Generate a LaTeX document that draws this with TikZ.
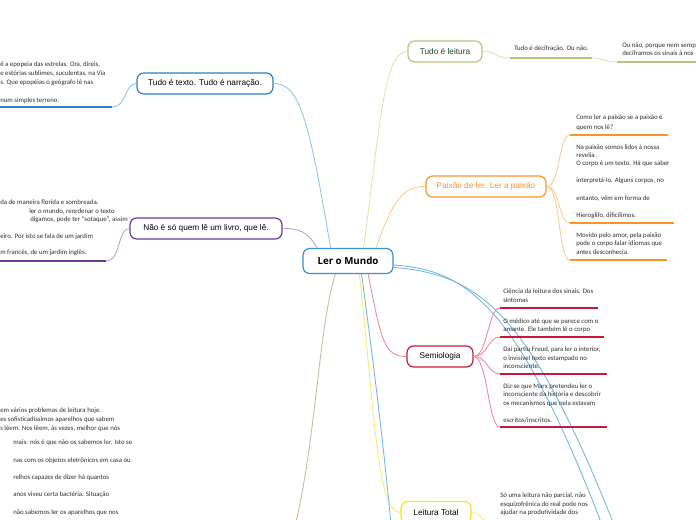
\documentclass[tikz,border=0pt]{standalone}
\usepackage{fontspec}
\setmainfont{Carlito}
\newfontfamily\nodefont{Liberation Sans}
\newfontfamily\centfont{Open Sans}
\definecolor{cblue}{HTML}{3B8FD0}
\definecolor{tblue}{HTML}{2F7FC1}
\definecolor{lblue}{HTML}{8EC6EA}
\definecolor{bblue}{HTML}{73B6E2}
\definecolor{cpurp}{HTML}{6C3A96}
\definecolor{lpurp}{HTML}{B9A2D6}
\definecolor{colive}{HTML}{B5C77C}
\definecolor{lolive}{HTML}{DCE4B6}
\definecolor{tgreen}{HTML}{1A4A36}
\definecolor{corange}{HTML}{F5962A}
\definecolor{lorange}{HTML}{FCC98F}
\definecolor{cred}{HTML}{C8193C}
\definecolor{lred}{HTML}{E98A9C}
\definecolor{cyell}{HTML}{F7E31C}
\definecolor{lyell}{HTML}{FBE870}
\definecolor{ctan}{HTML}{C9B9A0}
\definecolor{ctext}{HTML}{2E2E2E}
\begin{document}
\begin{tikzpicture}[x=0.75pt,y=-0.75pt,
  topic/.style={draw, fill=white, rounded corners=5pt, line width=0.9pt, inner sep=0pt,
    font=\nodefont\fontsize{6.2pt}{7pt}\selectfont, text=black},
  txt/.style={inner sep=0pt, anchor=base west, font=\fontsize{5.1pt}{6.4pt}\selectfont, text=ctext},
  conn/.style={line width=0.65pt},
  uline/.style={line width=1.1pt}
]
\useasboundingbox (0,0) rectangle (696,520);
\clip (0,0) rectangle (696,520);

% ---------- topics ----------
\node[topic, draw=cblue, minimum width=67.5pt, minimum height=18.75pt,
      font=\centfont\bfseries\fontsize{7.3pt}{8pt}\selectfont] (c) at (348,261) {Ler o Mundo};
\node[topic, draw=tblue, minimum width=102pt, minimum height=15.75pt] (tt) at (205,83.5) {Tudo é texto. Tudo é narração.};
\node[topic, draw=cpurp, minimum width=114pt, minimum height=15.75pt] (ns) at (206,228.5) {Não é só quem lê um livro, que lê.};
\node[topic, draw=colive, text=tgreen, minimum width=55.5pt, minimum height=15.75pt] (tl) at (445,51.5) {Tudo é leitura};
\node[topic, draw=corange, text=corange, minimum width=90pt, minimum height=15.75pt] (pl) at (486,186.5) {Paixão de ler. Ler a paixão};
\node[topic, draw=cred, minimum width=49.5pt, minimum height=15.75pt] (se) at (440,356.5) {Semiologia};
\node[topic, draw=cyell, minimum width=52.5pt, minimum height=16.5pt] (lt) at (436,512.5) {Leitura Total};

% ---------- free ends ----------
\coordinate (bd) at (393,545);
\coordinate (tn) at (290,545);
\coordinate (ba) at (606,535);
\coordinate (bb) at (618,535);
\coordinate (u1a) at (-5,107);  \coordinate (u1b) at (112,107);
\coordinate (u2a) at (-5,261);  \coordinate (u2b) at (106,261);
\coordinate (u3a) at (510,58);  \coordinate (u3b) at (592,58);
\coordinate (u4a) at (617,62);  \coordinate (u4b) at (705,62);
\coordinate (p1a) at (570,135); \coordinate (p1b) at (668,135);
\coordinate (p2a) at (570,223); \coordinate (p2b) at (674,223);
\coordinate (p3a) at (570,260); \coordinate (p3b) at (667,260);
\coordinate (s1a) at (500,308); \coordinate (s1b) at (598,308);
\coordinate (s2a) at (500,337); \coordinate (s2b) at (604,337);
\coordinate (s3a) at (500,374); \coordinate (s3b) at (607,374);
\coordinate (s4a) at (500,427); \coordinate (s4b) at (607,427);
\coordinate (l1a) at (497,532);

% ---------- main connectors ----------
\draw[conn, lblue]  (c.143) .. controls +(-22,-130) and +(26,0) .. (tt.east);
\draw[conn, lpurp]  (c.157) .. controls +(-10,-17) and +(16,0) .. (ns.east);
\draw[conn, lolive] (c.40) .. controls +(17,-129) and +(-23,0) .. (tl.west);
\draw[conn, lorange](c.25) .. controls +(17,-49) and +(-22,0) .. (pl.west);
\draw[conn, lred]   (c.-33) .. controls +(13,67) and +(-22,0) .. (se.west);
\draw[conn, lyell]  (c.-49) .. controls +(16,147) and +(-23,0) .. (lt.west);
\draw[conn, bblue]  (c.-44) .. controls +(17,127) and +(-7,-75) .. (bd);
\draw[conn, ctan]   (c.-134) .. controls +(-18,57) and +(26,-90) .. (tn);
\draw[conn, bblue]  (c.-5) .. controls +(77,5) and +(-86,-225) .. (ba);
\draw[conn, bblue]  (c.-8) .. controls +(85,7) and +(-88,-225) .. (bb);

% ---------- Tudo e texto ----------
\draw[conn, lblue] (u1b) .. controls +(15,0) and +(-12,0) .. (tt.west);
\draw[uline, tblue] (u1a) -- (u1b);
\node[txt] (a1) at (0,67) {ê a epopeia das estrelas. Ora, direis,};
\node[txt] (a2) at (0,76) {e estórias sublimes, suculentas, na Via};
\node[txt] (a3) at (0,85) {s. Que epopéias o geógrafo lê nas};
\node[txt] (a4) at (0,103) {num simples terreno.};

% ---------- Nao e so ----------
\draw[conn, lpurp] (u2b) .. controls +(15,0) and +(-12,0) .. (ns.west);
\draw[uline, cpurp] (u2a) -- (u2b);
\node[txt] (b1) at (0,205) {da de maneira florida e sombreada.};
\node[txt] (b2) at (29,214) {ler o mundo, reordenar o texto};
\node[txt] (b3) at (30,222) {digamos, pode ter “sotaque”, assim};
\node[txt] (b4) at (0,239) {eiro. Por isto se fala de um jardim};
\node[txt] (b5) at (0,255) {m francês, de um jardim inglês.};

% ---------- bottom left ----------
\node[txt] (d1) at (0,412) {em vários problemas de leitura hoje.};
\node[txt] (d2) at (0,421) {es sofisticadíssimos aparelhos que sabem};
\node[txt] (d3) at (0,430) {s lêem. Nos lêem, às vezes, melhor que nós};
\node[txt] (d4) at (13,444) {mais: nós é que não os sabemos ler. Isto se};
\node[txt] (d5) at (13,462) {nas com os objetos eletrônicos em casa ou};
\node[txt] (d6) at (13,479) {relhos capazes de dizer há quantos};
\node[txt] (d7) at (13,496) {anos viveu certa bactéria. Situação};
\node[txt] (d8) at (13,514) {não sabemos ler os aparelhos que nos};

% ---------- Tudo e leitura ----------
\draw[conn, lolive] (tl.east) .. controls +(15,0) and +(-15,0) .. (u3a);
\draw[uline, colive] (u3a) -- (u3b);
\draw[conn, lolive] (u3b) .. controls +(12,0) and +(-12,0) .. (u4a);
\draw[uline, colive] (u4a) -- (u4b);
\node[txt] (e1) at (514,51) {Tudo é decifração. Ou não.};
\node[txt] (e2) at (622,48) {Ou não, porque nem semp};
\node[txt] (e3) at (622,56) {deciframos os sinais à nos};

% ---------- Paixao ----------
\draw[conn, lorange] (pl.east) .. controls +(14,0) and +(-12,0) .. (p1a);
\draw[conn, lorange] (pl.east) .. controls +(14,0) and +(-12,0) .. (p2a);
\draw[conn, lorange] (pl.east) .. controls +(14,0) and +(-12,0) .. (p3a);
\draw[uline, corange] (p1a) -- (p1b);
\draw[uline, corange] (p2a) -- (p2b);
\draw[uline, corange] (p3a) -- (p3b);
\node[txt] (f1) at (576,120) {Como ler a paixão se a paixão é};
\node[txt] (f2) at (576,130) {quem nos lê?};
\node[txt] (f3) at (576,150) {Na paixão somos lidos à nossa};
\node[txt] (f4) at (576,158) {revelia .};
\node[txt] (f5) at (576,166) {O corpo é um texto. Há que saber};
\node[txt] (f6) at (576,183) {interpretá-lo. Alguns corpos, no};
\node[txt] (f7) at (576,201) {entanto, vêm em forma de};
\node[txt] (f8) at (576,218) {Hieroglifo, dificílimos.};
\node[txt] (f9) at (576,238) {Movido pelo amor, pela paixão};
\node[txt] (f10) at (576,246) {pode o corpo falar idiomas que};
\node[txt] (f11) at (576,255) {antes desconhecia.};

% ---------- Semiologia ----------
\draw[conn, lred] (se.east) .. controls +(14,0) and +(-12,0) .. (s1a);
\draw[conn, lred] (se.east) .. controls +(14,0) and +(-12,0) .. (s2a);
\draw[conn, lred] (se.east) .. controls +(14,0) and +(-12,0) .. (s3a);
\draw[conn, lred] (se.east) .. controls +(14,0) and +(-12,0) .. (s4a);
\draw[uline, cred] (s1a) -- (s1b);
\draw[uline, cred] (s2a) -- (s2b);
\draw[uline, cred] (s3a) -- (s3b);
\draw[uline, cred] (s4a) -- (s4b);
\node[txt] (g1) at (503,294) {Ciência da leitura dos sinais. Dos};
\node[txt] (g2) at (503,303) {sintomas};
\node[txt] (g3) at (503,324) {O médico até que se parece com o};
\node[txt] (g4) at (503,331) {amante. Ele também lê o corpo};
\node[txt] (g5) at (503,351) {Daí partiu Freud, para ler o interior,};
\node[txt] (g6) at (503,360) {o invisível texto estampado no};
\node[txt] (g7) at (503,368) {inconsciente.};
\node[txt] (g8) at (503,388) {Diz-se que Marx pretendeu ler o};
\node[txt] (g9) at (503,396) {inconsciente da história e descobrir};
\node[txt] (g10) at (503,405) {os mecanismos que nela estavam};
\node[txt] (g11) at (503,422) {escritos/inscritos.};

% ---------- Leitura Total ----------
\draw[conn, lyell] (lt.east) .. controls +(14,0) and +(-12,0) .. (l1a);
\node[txt] (h1) at (500,497) {Só uma leitura não parcial, não};
\node[txt] (h2) at (500,506) {esquizofrênica do real pode nos};
\node[txt] (h3) at (500,514) {ajudar na produtividade dos};
\end{tikzpicture}
\end{document}
